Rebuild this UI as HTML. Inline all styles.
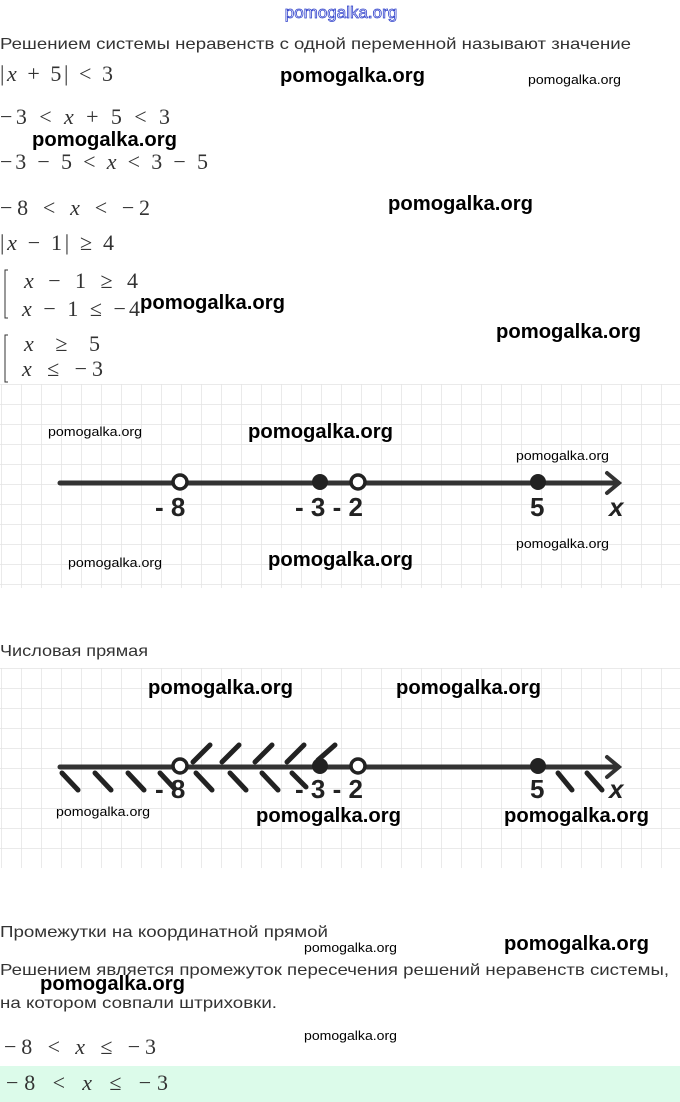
<!DOCTYPE html>
<html><head><meta charset="utf-8"><style>
html,body{margin:0;padding:0;background:#fff;}
svg{display:block}
.h{font-family:"Liberation Sans",sans-serif;font-size:16px;fill:#333;}
.m{font-family:"Liberation Serif",serif;font-size:22px;fill:#333;}
.i{font-style:italic}
.wb{font-family:"Liberation Sans",sans-serif;font-size:20px;fill:#000;font-weight:bold;}
.ws{font-family:"Liberation Sans",sans-serif;font-size:13px;fill:#000;}
.lab{font-family:"Liberation Sans",sans-serif;font-size:26px;font-weight:bold;fill:#222;}
</style></head><body>
<svg width="680" height="1102" viewBox="0 0 680 1102" xmlns="http://www.w3.org/2000/svg">
<defs>
<pattern id="g" x="1" y="384" width="20" height="20" patternUnits="userSpaceOnUse">
<path d="M0 0V20M0 0H20" stroke="#e3e3e3" stroke-width="1.5" fill="none"/>
</pattern>
<pattern id="g2" x="1" y="668" width="20" height="20" patternUnits="userSpaceOnUse">
<path d="M0 0V20M0 0H20" stroke="#e3e3e3" stroke-width="1.5" fill="none"/>
</pattern>
</defs>
<text x="341" y="18" text-anchor="middle" font-family="Liberation Sans,sans-serif" font-size="17" fill="none" stroke="#3344cc" stroke-width="0.8">pomogalka.org</text>
<text class="h" x="0" y="49" textLength="631" lengthAdjust="spacingAndGlyphs">Решением системы неравенств с одной переменной называют значение</text>
<text class="m" x="0" y="81" textLength="113">|<tspan class="i">x</tspan> + 5|  &lt;  3</text>
<text class="m" x="0" y="124" textLength="170">−3  &lt;  <tspan class="i">x</tspan> + 5  &lt;  3</text>
<text class="m" x="0" y="169" textLength="208">−3 − 5  &lt;  <tspan class="i">x</tspan>  &lt;  3 − 5</text>
<text class="m" x="0" y="215" textLength="150">−8  &lt;  <tspan class="i">x</tspan>  &lt;  −2</text>
<text class="m" x="0" y="250" textLength="114">|<tspan class="i">x</tspan> − 1|  ≥  4</text>
<path d="M8 270H5V318H8M8 335H5V382H8" stroke="#333" fill="none" stroke-width="1"/>
<text class="m" x="24" y="288" textLength="114"><tspan class="i">x</tspan> − 1   ≥   4</text>
<text class="m" x="22" y="316" textLength="118"><tspan class="i">x</tspan> − 1  ≤  −4</text>
<text class="m" x="24" y="351" textLength="76"><tspan class="i">x</tspan>   ≥   5</text>
<text class="m" x="22" y="376" textLength="81"><tspan class="i">x</tspan>  ≤  −3</text>

<text class="wb" x="280" y="82" textLength="145" lengthAdjust="spacingAndGlyphs">pomogalka.org</text>
<text class="ws" x="528" y="84" textLength="93" lengthAdjust="spacingAndGlyphs">pomogalka.org</text>
<text class="wb" x="32" y="146" textLength="145" lengthAdjust="spacingAndGlyphs">pomogalka.org</text>
<text class="wb" x="388" y="210" textLength="145" lengthAdjust="spacingAndGlyphs">pomogalka.org</text>
<text class="wb" x="140" y="309" textLength="145" lengthAdjust="spacingAndGlyphs">pomogalka.org</text>
<text class="wb" x="496" y="338" textLength="145" lengthAdjust="spacingAndGlyphs">pomogalka.org</text>

<rect x="0" y="384" width="680" height="204" fill="url(#g)"/>
<line x1="60" y1="483" x2="618" y2="483" stroke="#333" stroke-width="5" stroke-linecap="round"/>
<path d="M607 473L619 483L607 493" stroke="#333" stroke-width="4" fill="none" stroke-linecap="round"/>
<circle cx="180" cy="482" r="7" fill="#fff" stroke="#222" stroke-width="3.5"/>
<circle cx="358" cy="482" r="7" fill="#fff" stroke="#222" stroke-width="3.5"/>
<circle cx="320" cy="482" r="8" fill="#222"/>
<circle cx="538" cy="482" r="8" fill="#222"/>
<text class="lab" x="155" y="516">- 8</text>
<text class="lab" x="295" y="516">- 3 - 2</text>
<text class="lab" x="530" y="516">5</text>
<text class="lab" x="609" y="516" font-style="italic">x</text>
<text class="ws" x="48" y="436" textLength="94" lengthAdjust="spacingAndGlyphs">pomogalka.org</text>
<text class="wb" x="248" y="438" textLength="145" lengthAdjust="spacingAndGlyphs">pomogalka.org</text>
<text class="ws" x="516" y="460" textLength="93" lengthAdjust="spacingAndGlyphs">pomogalka.org</text>
<text class="ws" x="516" y="548" textLength="93" lengthAdjust="spacingAndGlyphs">pomogalka.org</text>
<text class="ws" x="68" y="567" textLength="94" lengthAdjust="spacingAndGlyphs">pomogalka.org</text>
<text class="wb" x="268" y="566" textLength="145" lengthAdjust="spacingAndGlyphs">pomogalka.org</text>

<text class="h" x="0" y="656" textLength="148" lengthAdjust="spacingAndGlyphs">Числовая прямая</text>

<rect x="0" y="668" width="680" height="200" fill="url(#g2)"/>
<g stroke="#222" stroke-width="5" stroke-linecap="round">
<path d="M62 773L78 790M95 773L111 790M128 773L144 790M160 773L174 788"/>
<path d="M196 773L212 790M230 773L246 790M262 773L278 790M292 773L306 787"/>
<path d="M193 762L210 745M222 762L239 745M255 762L272 745M287 762L304 745M318 760L335 745"/>
<path d="M558 773L572 790M587 773L602 790"/>
</g>
<line x1="60" y1="767" x2="618" y2="767" stroke="#333" stroke-width="5" stroke-linecap="round"/>
<path d="M607 757L619 767L607 777" stroke="#333" stroke-width="4" fill="none" stroke-linecap="round"/>
<circle cx="180" cy="766" r="7" fill="#fff" stroke="#222" stroke-width="3.5"/>
<circle cx="358" cy="766" r="7" fill="#fff" stroke="#222" stroke-width="3.5"/>
<circle cx="320" cy="766" r="8" fill="#222"/>
<circle cx="538" cy="766" r="8" fill="#222"/>
<text class="lab" x="155" y="798">- 8</text>
<text class="lab" x="295" y="798">- 3 - 2</text>
<text class="lab" x="530" y="798">5</text>
<text class="lab" x="609" y="798" font-style="italic">x</text>
<text class="wb" x="148" y="694" textLength="145" lengthAdjust="spacingAndGlyphs">pomogalka.org</text>
<text class="wb" x="396" y="694" textLength="145" lengthAdjust="spacingAndGlyphs">pomogalka.org</text>
<text class="ws" x="56" y="816" textLength="94" lengthAdjust="spacingAndGlyphs">pomogalka.org</text>
<text class="wb" x="256" y="822" textLength="145" lengthAdjust="spacingAndGlyphs">pomogalka.org</text>
<text class="wb" x="504" y="822" textLength="145" lengthAdjust="spacingAndGlyphs">pomogalka.org</text>

<text class="h" x="0" y="937" textLength="328" lengthAdjust="spacingAndGlyphs">Промежутки на координатной прямой</text>
<text class="ws" x="304" y="952" textLength="93" lengthAdjust="spacingAndGlyphs">pomogalka.org</text>
<text class="wb" x="504" y="950" textLength="145" lengthAdjust="spacingAndGlyphs">pomogalka.org</text>
<text class="h" x="0" y="975" textLength="669" lengthAdjust="spacingAndGlyphs">Решением является промежуток пересечения решений неравенств системы,</text>
<text class="wb" x="40" y="990" textLength="145" lengthAdjust="spacingAndGlyphs">pomogalka.org</text>
<text class="h" x="0" y="1008" textLength="277" lengthAdjust="spacingAndGlyphs">на котором совпали штриховки.</text>
<text class="ws" x="304" y="1040" textLength="93" lengthAdjust="spacingAndGlyphs">pomogalka.org</text>
<text class="m" x="4" y="1054" textLength="152">−8  &lt;  <tspan class="i">x</tspan>  ≤  −3</text>
<rect x="0" y="1066" width="680" height="36" fill="#dcfbea"/>
<text class="m" x="6" y="1090" textLength="162">−8  &lt;  <tspan class="i">x</tspan>  ≤  −3</text>
</svg>
</body></html>
